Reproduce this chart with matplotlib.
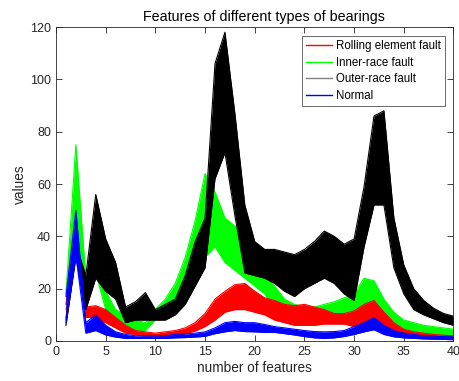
import numpy as np
import matplotlib
matplotlib.use("Agg")
import matplotlib.pyplot as plt
from matplotlib.lines import Line2D

plt.rcParams['font.family'] = ['Liberation Sans', 'DejaVu Sans']

# feature index 1..40
features = np.arange(1, 41)

# lower / upper edge of each bundle of sample curves
red_lo = [9, 34, 9, 9, 7, 5, 3, 2.5, 1.8, 1.8, 1.8, 2, 2.8, 3.8, 5.5, 8, 11, 12, 12, 11,
          10, 8, 7, 6, 6, 6, 6.5, 6.5, 6.5, 5.5, 6.5, 5.5, 3.5, 2.5, 1.8, 1.4, 1.2, 1.1, 1, 1]
red_hi = [14, 42, 13, 13.5, 12, 9, 6, 4, 3.5, 3, 3.5, 4, 5, 7, 10.5, 16, 19, 21.5, 22, 19,
          16.5, 15.5, 14, 13.5, 14, 13, 12, 10.5, 10.5, 11.5, 14, 15.5, 11, 7, 4.5, 3.5, 3, 2.5, 2.2, 2]

green_lo = [12, 42, 14, 26, 12, 7, 6, 4, 4, 8, 10, 14, 18, 25, 32, 36, 30, 27, 24, 21,
            18, 12, 8, 7, 7, 7, 8, 9, 10, 10, 12, 11, 8, 5.5, 4, 3, 2.7, 2.5, 2.2, 1.8]
green_hi = [18, 75, 24, 34, 19, 12, 10, 8, 7, 12, 16, 22, 32, 46, 64, 57, 47, 44, 39, 32,
            25, 21, 16, 14, 13, 13, 14, 15, 16.5, 18, 24, 23, 16, 11, 8, 7, 6, 5.5, 5, 4.5]

black_lo = [6, 32, 12, 24, 19, 16, 7, 8, 8, 8, 8, 10, 14, 21, 28, 62, 72, 48, 26, 25,
            24, 22, 19, 17, 20, 22, 24, 22, 18, 15.5, 36, 52, 52, 28, 18, 12, 10, 8.5, 7, 6]
black_hi = [8, 37, 25, 56, 39, 30, 13, 15, 18.5, 12, 14, 16, 25, 38, 47, 106, 118, 87, 52, 38,
            35, 35, 34, 33, 35, 38, 42, 40, 37, 39, 59, 86, 88, 47, 29, 20, 15.5, 12.5, 10.5, 9.5]

blue_lo = [7, 33, 3, 4, 2.3, 1.5, 1, 1, 1, 1, 1, 1.2, 1.3, 1.5, 1.8, 2.8, 3.5, 4, 3.6, 3.5,
           3.3, 3.3, 2.8, 2.3, 1.7, 1.2, 1, 1.2, 1.7, 2.5, 3.5, 4.3, 2.5, 1.6, 1.2, 1, 0.8, 0.7, 0.6, 0.5]
blue_hi = [17, 50, 7, 10, 6, 3.5, 2.5, 2, 2, 2, 2, 2.5, 2.7, 3, 3.5, 5, 7, 7.5, 7, 7,
           6.3, 5.5, 5, 4.5, 4, 3.6, 3.5, 3.6, 4, 5.5, 7, 9, 6, 4, 3, 2.5, 2, 1.8, 1.7, 1.6]

labels = ['Rolling element fault', 'Inner-race fault', 'Outer-race fault', 'Normal']

fig = plt.figure(figsize=(4.59, 3.81), dpi=100)
ax = fig.add_axes([0.122, 0.105, 0.866, 0.824])

# draw order as seen in the picture: green under red, black and blue on top
bundles = [
    (green_lo, green_hi, '#00ff00'),
    (red_lo, red_hi, '#ff0000'),
    (black_lo, black_hi, '#000000'),
    (blue_lo, blue_hi, '#0000ff'),
]
for i, (lo, hi, col) in enumerate(bundles):
    z = 2 + i
    ax.fill_between(features, lo, hi, color=col, lw=0, zorder=z)
    ax.plot(features, lo, color=col, lw=0.8, zorder=z)
    ax.plot(features, hi, color=col, lw=0.8, zorder=z)

ax.set_xlim(0, 40)
ax.set_ylim(0, 120)
ax.set_xticks(range(0, 41, 5))
ax.set_yticks(range(0, 121, 20))
ax.tick_params(direction='in', top=True, right=True, labelsize=9, colors='#262626',
               length=4, width=0.6)
for s in ax.spines.values():
    s.set_color('#262626')
    s.set_linewidth(0.6)
    s.set_zorder(10)

ax.set_title('Features of different types of bearings', fontsize=10.3, color='#000000',
             pad=4, x=0.523)
ax.set_xlabel('number of features', fontsize=9.8, color='#262626', labelpad=2)
ax.set_ylabel('values', fontsize=9.8, color='#262626', labelpad=2)

handles = [Line2D([], [], color=c, lw=1) for c in ['#ff0000', '#00ff00', '#808080', '#0000ff']]
leg = ax.legend(handles, labels, loc='upper right', fontsize=8.3, frameon=True,
                fancybox=False, borderaxespad=0.75, handlelength=2.3, handletextpad=0.3,
                labelspacing=0.42, borderpad=0.35)
leg.get_frame().set_edgecolor('#262626')
leg.get_frame().set_linewidth(0.6)
leg.set_zorder(20)

fig.savefig('out.png', dpi=100)
